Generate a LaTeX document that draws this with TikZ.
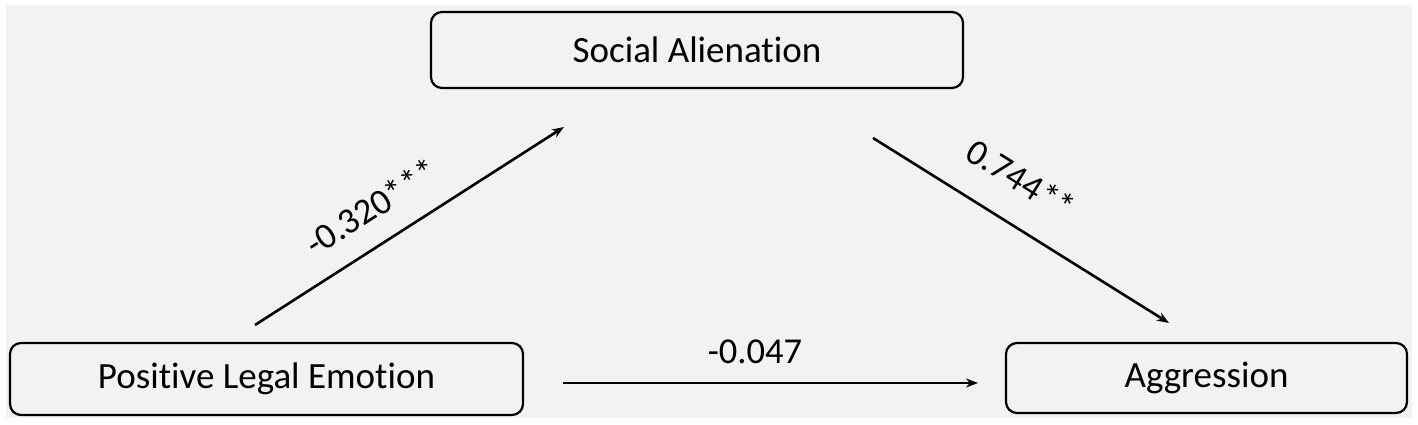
\documentclass[tikz,border=0pt]{standalone}
\usepackage{fontspec}
\setmainfont{Carlito}[RawFeature={-liga}]
\usetikzlibrary{arrows.meta}
\definecolor{bggray}{HTML}{F2F2F2}
\tikzset{
  varbox/.style={draw=black, line width=2.2pt, rounded corners=11pt, fill=bggray,
    font=\fontsize{37}{41}\selectfont, inner sep=0pt},
  patharrow/.style={line width=2.6pt, -{Stealth[length=12pt,width=9pt]}},
  coeflabel/.style={font=\fontsize{36.5}{40}\selectfont, inner sep=0pt}
}
\begin{document}
\begin{tikzpicture}[x=1pt,y=1pt]
\useasboundingbox (0,0) rectangle (1418,425);
\fill[white] (0,0) rectangle (1418,425);
\fill[bggray] (6,7) rectangle (1412,420);
\node[varbox, minimum width=532pt, minimum height=76pt] (sa) at (697,375) {Social Alienation};
\node[varbox, minimum width=513pt, minimum height=72pt] (ple) at (266.5,46) {Positive Legal Emotion};
\node[varbox, minimum width=401pt, minimum height=70pt] (ag) at (1206.5,47) {Aggression};
\coordinate (a1s) at (255,100);
\coordinate (a1e) at (564,298);
\coordinate (a2s) at (873,287);
\coordinate (a2e) at (1169,102);
\coordinate (a3s) at (563,42);
\coordinate (a3e) at (978,42);
\draw[patharrow] (a1s) -- (a1e);
\draw[patharrow] (a2s) -- (a2e);
\draw[patharrow] (a3s) -- (a3e);
\node[coeflabel, rotate=32.6] (l1) at (371,218) {-0.320***};
\node[coeflabel, rotate=-32] (l2) at (1021,246) {0.744**};
\node[coeflabel] (l3) at (755,73) {-0.047};
\end{tikzpicture}
\end{document}
